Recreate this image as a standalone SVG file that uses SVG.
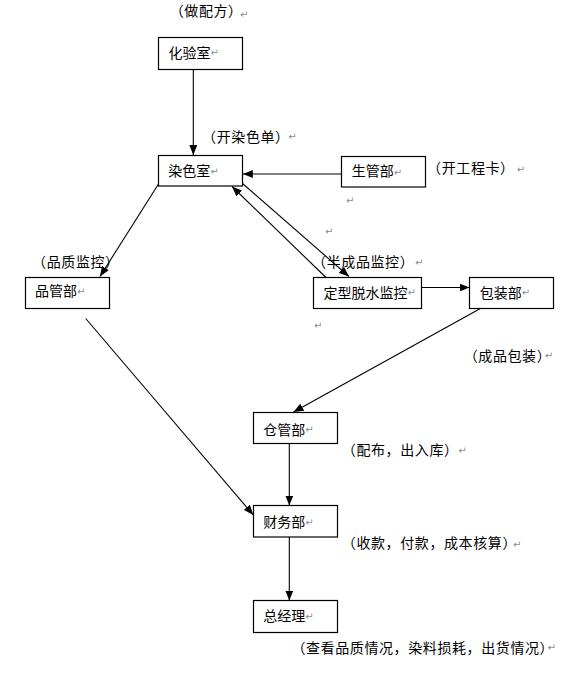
<svg xmlns="http://www.w3.org/2000/svg" width="584" height="678" viewBox="0 0 584 678">
<style>
.box{fill:#fff;stroke:#000;stroke-width:1.2}
.t{font-family:"Noto Sans CJK SC","Noto Sans CJK JP",sans-serif;font-size:14px;fill:#000}
.lb{font-family:"Noto Sans CJK SC","Noto Sans CJK JP",sans-serif;font-size:14px;letter-spacing:0.6px;fill:#000}
.cp{letter-spacing:-6px}
.pm{font-family:"DejaVu Sans",sans-serif;font-size:10px;letter-spacing:0;fill:#8c8c8c}
.ln{fill:none;stroke:#000;stroke-width:1.1}
</style>
<defs>
<marker id="ah" viewBox="0 0 10 8" refX="10" refY="4" markerWidth="10" markerHeight="8" markerUnits="userSpaceOnUse" orient="auto">
<path d="M0,0 L10,4 L0,8 z" fill="#000"/>
</marker>
</defs>
<rect width="584" height="678" fill="#fff"/>

<g id="connectors">
<path class="ln" d="M193.3,69.5 L193.3,155" marker-end="url(#ah)"/>
<path class="ln" d="M341.5,174 L242.8,174" marker-end="url(#ah)"/>
<path class="ln" d="M158.5,184 L100,276.5" marker-end="url(#ah)"/>
<path class="ln" d="M326,277.5 L232,186.5" marker-end="url(#ah)"/>
<path class="ln" d="M242.5,183.5 L349,276.5" marker-end="url(#ah)"/>
<path class="ln" d="M421.5,287.5 L469.5,287.5" marker-end="url(#ah)"/>
<path class="ln" d="M85.7,318.5 L253.3,515" marker-end="url(#ah)"/>
<path class="ln" d="M480.4,308.5 L293.5,412" marker-end="url(#ah)"/>
<path class="ln" d="M289.3,443.5 L289.3,505.5" marker-end="url(#ah)"/>
<path class="ln" d="M289.3,537 L289.3,600.5" marker-end="url(#ah)"/>
</g>

<g id="node-huayanshi">
<rect class="box" x="158.5" y="37.5" width="84" height="32"/>
<text class="t" x="168.5" y="58.3">化验室<tspan class="pm" dy="-2">↵</tspan></text>
</g>
<g id="node-ranseshi">
<rect class="box" x="158.5" y="155.5" width="84" height="30.5"/>
<text class="t" x="168.3" y="175.5">染色室<tspan class="pm" dy="-0.5">↵</tspan></text>
</g>
<g id="node-shengguanbu">
<rect class="box" x="341.5" y="156.5" width="84" height="30.5"/>
<text class="t" x="351.7" y="176">生管部<tspan class="pm" dy="-0.5">↵</tspan></text>
</g>
<g id="node-pinguanbu">
<rect class="box" x="25.5" y="277.5" width="84" height="31"/>
<text class="t" x="35" y="296">品管部<tspan class="pm" dy="-1">↵</tspan></text>
</g>
<g id="node-dingxing">
<rect class="box" x="313.5" y="277.5" width="108" height="31"/>
<text class="t" x="323.5" y="297.5">定型脱水监控<tspan class="pm" dy="-1.5">↵</tspan></text>
</g>
<g id="node-baozhuangbu">
<rect class="box" x="469.5" y="277.5" width="84" height="31"/>
<text class="t" x="479.7" y="297.5">包装部<tspan class="pm" dy="-1.5">↵</tspan></text>
</g>
<g id="node-cangguanbu">
<rect class="box" x="253.5" y="412.5" width="84" height="31"/>
<text class="t" x="263.3" y="434.5">仓管部<tspan class="pm" dy="-2">↵</tspan></text>
</g>
<g id="node-caiwubu">
<rect class="box" x="253.5" y="505.5" width="84" height="31.5"/>
<text class="t" x="263.3" y="526.5">财务部<tspan class="pm" dy="-1">↵</tspan></text>
</g>
<g id="node-zongjingli">
<rect class="box" x="253.5" y="600.5" width="84" height="32"/>
<text class="t" x="263.3" y="620.5">总经理<tspan class="pm" dy="-0.5">↵</tspan></text>
</g>

<g id="labels">
<text class="lb" x="169.7" y="16">（做配方<tspan class="cp">）</tspan><tspan class="pm" dx="3.9" dy="1.5">↵</tspan></text>
<text class="lb" x="202.1" y="142">（开染色单<tspan class="cp">）</tspan><tspan class="pm" dx="5.2" dy="-2">↵</tspan></text>
<text class="lb" x="427.1" y="173.3">（开工程卡<tspan class="cp">）</tspan><tspan class="pm" dx="8.6" dy="-0.5">↵</tspan></text>
<text class="pm" x="346" y="203.5">↵</text>
<text class="pm" x="325" y="235">↵</text>
<text class="lb" x="32.1" y="267.3">（品质监控<tspan class="cp">）</tspan></text>
<text class="lb" x="312.1" y="266.6">（半成品监控<tspan class="cp">）</tspan><tspan class="pm" dx="7.3" dy="-0.6">↵</tspan></text>
<text class="pm" x="314" y="328.5">↵</text>
<text class="lb" x="463.7" y="360.5">（成品包装<tspan class="cp">）</tspan><tspan class="pm" dy="-2">↵</tspan></text>
<text class="lb" x="341.8" y="454.5">（配布，出入库<tspan class="cp">）</tspan><tspan class="pm" dx="6.3" dy="-1">↵</tspan></text>
<text class="lb" x="341.8" y="548.3">（收款，付款，成本核算<tspan class="cp">）</tspan><tspan class="pm" dx="2.6" dy="-0.8">↵</tspan></text>
<text class="lb" x="291.4" y="653">（查看品质情况，染料损耗，出货情况<tspan class="cp">）</tspan><tspan class="pm" dy="-2.2">↵</tspan></text>
</g>
</svg>
